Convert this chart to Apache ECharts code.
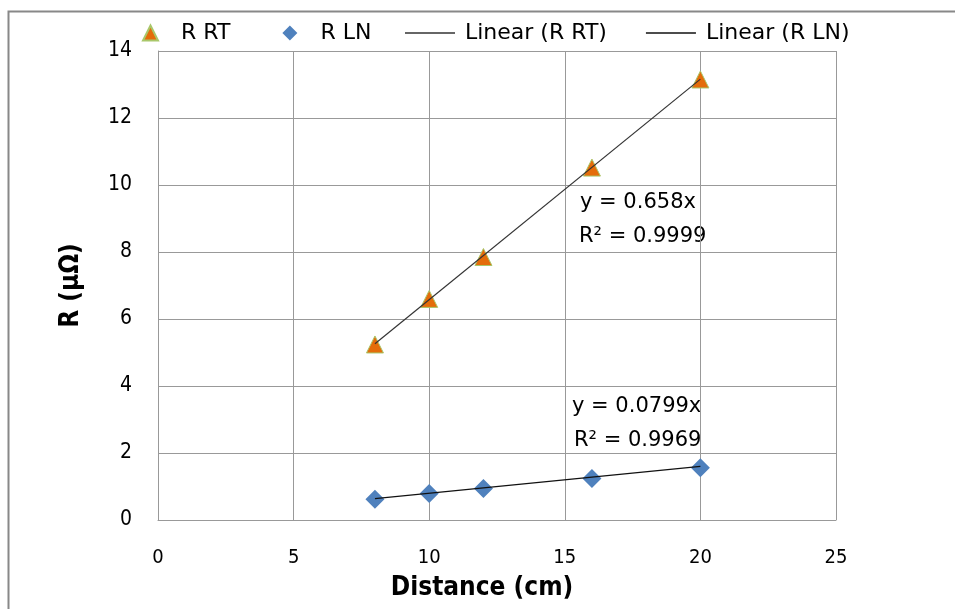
<!DOCTYPE html>
<html><head><meta charset="utf-8">
<script src="https://cdn.jsdelivr.net/npm/echarts@6/dist/echarts.min.js"></script>
<style>html,body{margin:0;padding:0;background:#fff}#c{width:955px;height:609px}</style>
</head><body><div id="c"></div>
<script>
const distance = [8, 10, 12, 16, 20];
const rRT = [5.24, 6.6, 7.85, 10.52, 13.15];
const rLN = [0.62, 0.79, 0.94, 1.24, 1.56];
const trendX = [8, 20];
const trendRT = [5.26, 13.16];
const trendLN = [0.64, 1.6];
const xTicks = [0, 5, 10, 15, 20, 25];
const yTicks = [0, 2, 4, 6, 8, 10, 12, 14];
const eqRT = ['y = 0.658x', 'R² = 0.9999'];
const eqLN = ['y = 0.0799x', 'R² = 0.9969'];

const COND = '"DejaVu Sans Condensed", "DejaVu Sans", sans-serif';
const FONT = '"DejaVu Sans", sans-serif';
const chart = echarts.init(document.getElementById('c'));
const pairs = (xs, ys) => xs.map((x, i) => [x, ys[i]]);
chart.setOption({
  animation: false,
  textStyle: {fontFamily: FONT},
  grid: {left: 158, right: 119, top: 51, bottom: 89},
  legend: [
    {data: ['R RT', 'R LN'], left: 137, top: 17, itemWidth: 15, itemHeight: 15, itemGap: 52,
     textStyle: {fontSize: 22, color: '#000', fontFamily: FONT, padding: [0, 0, 0, 18]}},
    {data: [{name: 'Linear (R RT)', icon: 'rect'}, {name: 'Linear (R LN)', icon: 'rect'}],
     left: 400, top: 17, itemWidth: 50, itemHeight: 1.3, itemGap: 39,
     textStyle: {fontSize: 22, color: '#000', fontFamily: FONT, padding: [0, 0, 0, 5]}}
  ],
  xAxis: {
    type: 'value', min: xTicks[0], max: xTicks[xTicks.length - 1], interval: 5,
    name: 'Distance (cm)', nameLocation: 'middle', nameGap: 55,
    nameTextStyle: {fontSize: 26, fontWeight: 'bold', color: '#000', fontFamily: COND, padding: [0, 30, 0, 0]},
    axisLine: {lineStyle: {color: '#999', width: 1}},
    axisTick: {show: false},
    axisLabel: {fontSize: 20, color: '#000', margin: 28, fontFamily: COND},
    splitLine: {lineStyle: {color: '#999', width: 1}}
  },
  yAxis: {
    type: 'value', min: yTicks[0], max: yTicks[yTicks.length - 1], interval: 2,
    name: 'R (µΩ)', nameLocation: 'middle', nameGap: 74,
    nameTextStyle: {fontSize: 26, fontWeight: 'bold', color: '#000', fontFamily: COND},
    axisLine: {show: true, lineStyle: {color: '#999', width: 1}},
    axisTick: {show: false},
    axisLabel: {fontSize: 21, color: '#000', margin: 26, fontFamily: COND, padding: [4, 0, 0, 0]},
    splitLine: {lineStyle: {color: '#999', width: 1}}
  },
  series: [
    {name: 'R RT', type: 'scatter', symbol: 'triangle', symbolSize: 17, z: 3,
     itemStyle: {color: '#E46C0A', borderColor: '#A9C76A', borderWidth: 1, opacity: 1},
     data: pairs(distance, rRT)},
    {name: 'R LN', type: 'scatter', symbol: 'diamond', symbolSize: 19, z: 3,
     itemStyle: {color: '#4F81BD', opacity: 1},
     data: pairs(distance, rLN)},
    {name: 'Linear (R RT)', type: 'line', symbol: 'none', z: 4,
     lineStyle: {color: '#333', width: 1.2}, itemStyle: {color: '#333'},
     data: pairs(trendX, trendRT)},
    {name: 'Linear (R LN)', type: 'line', symbol: 'none', z: 4,
     lineStyle: {color: '#111', width: 1.2}, itemStyle: {color: '#111'},
     data: pairs(trendX, trendLN)}
  ],
  graphic: [
    {type: 'rect', left: 6, top: 9, shape: {width: 960, height: 620},
     style: {fill: 'none', stroke: '#888', lineWidth: 2}, silent: true},
    {type: 'text', left: 580, top: 192, style: {text: eqRT[0], font: '21px ' + FONT, fill: '#000'}},
    {type: 'text', left: 579, top: 226, style: {text: eqRT[1], font: '21px ' + FONT, fill: '#000'}},
    {type: 'text', left: 572, top: 396, style: {text: eqLN[0], font: '21px ' + FONT, fill: '#000'}},
    {type: 'text', left: 574, top: 430, style: {text: eqLN[1], font: '21px ' + FONT, fill: '#000'}}
  ]
});
</script></body></html>
